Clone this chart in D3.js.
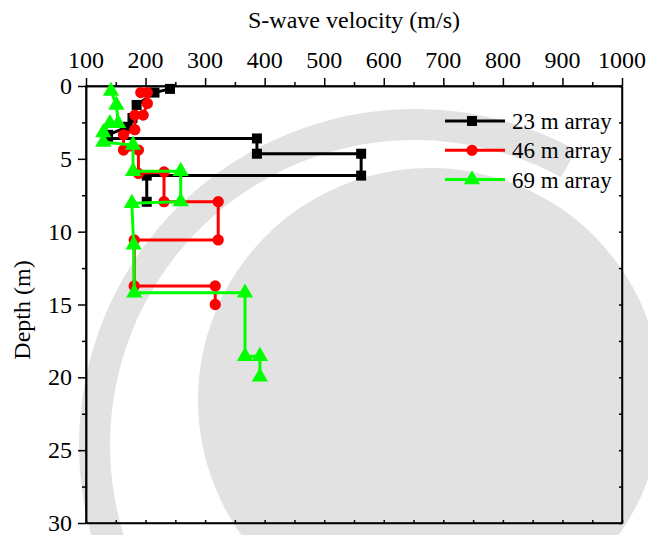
<!DOCTYPE html>
<html>
<head>
<meta charset="utf-8">
<script src="https://cdn.jsdelivr.net/npm/d3@7"></script>
</head>
<body style="margin:0">
<svg id="chart" width="648" height="535"></svg>
<script>
// Shear-wave velocity profiles (m/s) against depth (m) for three array sizes
const xTickValues = [100, 200, 300, 400, 500, 600, 700, 800, 900, 1000];
const yTickValues = [0, 5, 10, 15, 20, 25, 30];

const velocity23 = [241, 215, 185, 178, 170, 137, 137, 387, 387, 562, 562, 202, 202];
const depth23    = [0.2, 0.45, 1.3, 2.2, 2.8, 3.35, 3.6, 3.6, 4.65, 4.65, 6.15, 6.15, 7.95];

const velocity46 = [192, 203, 203, 196, 182, 182, 163, 163, 188, 188, 231, 231, 322, 322, 181, 181, 317, 317];
const depth46    = [0.45, 0.45, 1.2, 2.0, 2.0, 3.0, 3.35, 4.4, 4.4, 6.0, 5.9, 7.94, 7.94, 10.57, 10.57, 13.73, 13.73, 15.0];

const velocity69 = [142, 151, 154, 140, 129, 129, 179, 179, 259, 259, 177, 180, 181, 367, 367, 392, 392];
const depth69    = [0.35, 1.3, 2.56, 2.56, 3.2, 3.85, 4.05, 5.85, 5.85, 7.94, 8.05, 10.9, 14.2, 14.2, 18.55, 18.55, 19.97];

const seriesNames = ["23 m array", "46 m array", "69 m array"];
const seriesColors = ["#000000", "#ff0000", "#00ff00"];
const seriesSymbols = [d3.symbolSquare, d3.symbolCircle, d3.symbolTriangle];

const series = [
  { name: seriesNames[0], color: seriesColors[0], symbol: seriesSymbols[0], size: 100,
    points: velocity23.map((v, i) => [v, depth23[i]]) },
  { name: seriesNames[1], color: seriesColors[1], symbol: seriesSymbols[1], size: 100,
    points: velocity46.map((v, i) => [v, depth46[i]]) },
  { name: seriesNames[2], color: seriesColors[2], symbol: seriesSymbols[2], size: 115,
    points: velocity69.map((v, i) => [v, depth69[i]]) }
];

const svg = d3.select("#chart");
const plotLeft = 86, plotRight = 622, plotTop = 86, plotBottom = 523;

const x = d3.scaleLinear().domain([100, 1000]).range([plotLeft, plotRight]);
const y = d3.scaleLinear().domain([0, 30]).range([plotTop, plotBottom]);

// faint background emblem
const bg = svg.append("g").attr("fill", "#e2e2e2");
bg.append("circle").attr("cx", 430).attr("cy", 400).attr("r", 232);
bg.append("path")
  .attr("d", d3.arc()({ innerRadius: 305, outerRadius: 336, startAngle: -2.5, endAngle: 0.5 }))
  .attr("transform", "translate(415,445)");

// tick lines only; tick labels are written as plain text below
svg.append("g").attr("transform", `translate(0,${plotTop})`)
  .call(d3.axisTop(x).tickValues(xTickValues).tickSize(8).tickFormat("").tickSizeOuter(0));
svg.append("g").attr("transform", `translate(0,${plotTop})`)
  .call(d3.axisTop(x).tickValues(d3.range(150, 1000, 100)).tickSize(4).tickFormat("").tickSizeOuter(0));
svg.append("g").attr("transform", `translate(${plotLeft},0)`)
  .call(d3.axisLeft(y).tickValues(yTickValues).tickSize(8).tickFormat("").tickSizeOuter(0));
svg.append("g").attr("transform", `translate(${plotLeft},0)`)
  .call(d3.axisLeft(y).tickValues(d3.range(2.5, 30, 5)).tickSize(4).tickFormat("").tickSizeOuter(0));

// mirrored bottom and right axes with inward ticks
svg.append("g").attr("transform", `translate(0,${plotBottom})`)
  .call(d3.axisTop(x).tickValues(d3.range(100, 1001, 50)).tickSize(3).tickFormat("").tickSizeOuter(0));
svg.append("g").attr("transform", `translate(${plotRight},0)`)
  .call(d3.axisLeft(y).tickValues(d3.range(0, 30.1, 2.5)).tickSize(3).tickFormat("").tickSizeOuter(0));

svg.selectAll(".domain").attr("stroke", "#000").attr("stroke-width", 1.5);
svg.selectAll(".tick line").attr("stroke", "#000").attr("stroke-width", 1.5);

svg.append("rect")
  .attr("x", plotLeft).attr("y", plotTop).attr("width", plotRight - plotLeft).attr("height", plotBottom - plotTop)
  .attr("fill", "none").attr("stroke", "#000").attr("stroke-width", 1.5);

// tick labels
svg.append("g").selectAll("text").data(xTickValues).join("text")
  .attr("x", d => x(d)).attr("y", plotTop - 18).attr("text-anchor", "middle")
  .style("font-family", "Liberation Serif").style("font-size", "24px")
  .text(d => d);
svg.append("g").selectAll("text").data(yTickValues).join("text")
  .attr("x", plotLeft - 14).attr("y", d => y(d) + 8).attr("text-anchor", "end")
  .style("font-family", "Liberation Serif").style("font-size", "24px")
  .text(d => d);

// axis titles
svg.append("text").attr("x", (plotLeft + plotRight) / 2).attr("y", 28)
  .attr("text-anchor", "middle")
  .style("font-family", "Liberation Serif").style("font-size", "24px")
  .text("S-wave velocity (m/s)");
svg.append("text").attr("transform", "translate(30,310) rotate(-90)")
  .attr("text-anchor", "middle")
  .style("font-family", "Liberation Serif").style("font-size", "24px")
  .text("Depth (m)");

// profiles
const line = d3.line().x(d => x(d[0])).y(d => y(d[1]));
series.forEach(s => {
  const g = svg.append("g");
  g.append("path").attr("d", line(s.points))
    .attr("fill", "none").attr("stroke", s.color).attr("stroke-width", 3);
  g.selectAll("path.mark").data(s.points).join("path").attr("class", "mark")
    .attr("d", d3.symbol().type(s.symbol).size(s.size))
    .attr("transform", d => `translate(${x(d[0])},${y(d[1])})`)
    .attr("fill", s.color);
});

// legend
const legend = svg.append("g");
series.forEach((s, i) => {
  const ly = 121 + i * 29.3;
  legend.append("line").attr("x1", 445).attr("x2", 505).attr("y1", ly).attr("y2", ly)
    .attr("stroke", s.color).attr("stroke-width", 3);
  legend.append("path").attr("d", d3.symbol().type(s.symbol).size(s.size)())
    .attr("transform", `translate(472,${ly})`).attr("fill", s.color);
  legend.append("text").attr("x", 512).attr("y", ly + 8)
    .style("font-family", "Liberation Serif").style("font-size", "23px")
    .text(s.name);
});
</script>
</body>
</html>
